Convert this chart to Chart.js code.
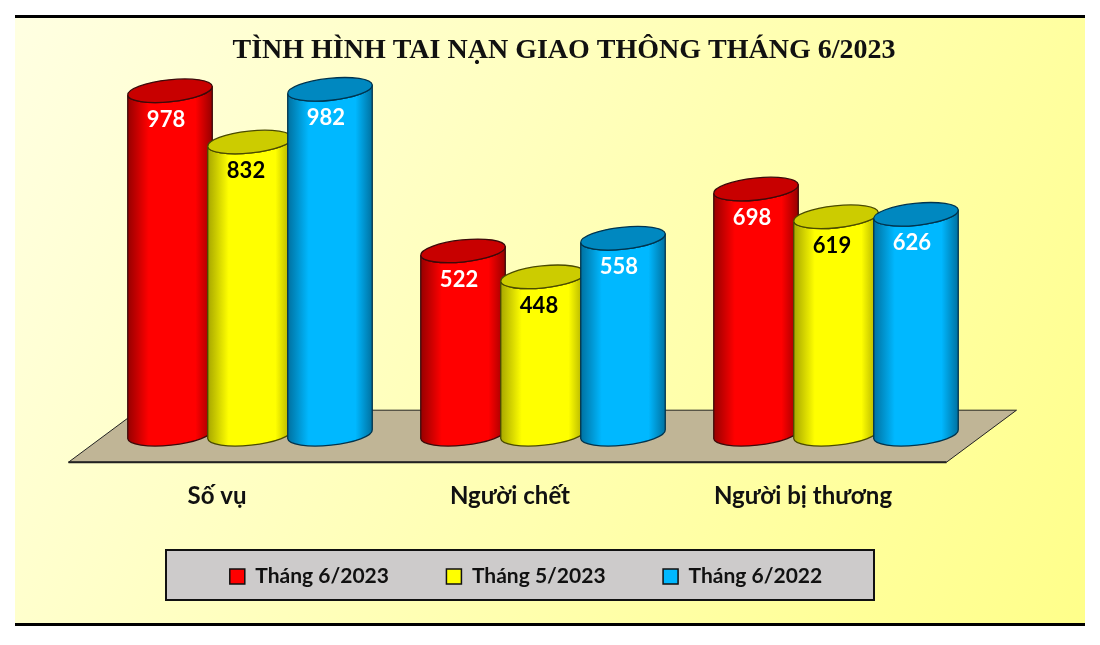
<!DOCTYPE html>
<html>
<head>
<meta charset="utf-8">
<style>
  html, body { margin: 0; padding: 0; background: #fff; }
  canvas { display: block; }
</style>
<script src="https://cdn.jsdelivr.net/npm/chart.js@4"></script>
</head>
<body>
<canvas id="chart" width="1100" height="645"></canvas>
<script>
const chartTitle = "TÌNH HÌNH TAI NẠN GIAO THÔNG THÁNG 6/2023";
const categories = ["Số vụ", "Người chết", "Người bị thương"];
const seriesNames = ["Tháng 6/2023", "Tháng 5/2023", "Tháng 6/2022"];
const thang62023 = [978, 522, 698];
const thang52023 = [832, 448, 619];
const thang62022 = [982, 558, 626];

const uiFont = "Lato, 'Open Sans', 'Noto Sans', sans-serif";
const palettes = [
    { main: "#ff0000", edge: "#960000", top: "#c80000", line: "#3c0a0a", text: "#ffffff" },
    { main: "#ffff00", edge: "#a6a600", top: "#cccc00", line: "#4a4a00", text: "#000000" },
    { main: "#00b8ff", edge: "#00709f", top: "#0088c0", line: "#00344e", text: "#ffffff" }
];

function drawCylinder(ctx, bar, colors) {
    const rx = bar.width / 2 + 2.5;
    const ry = 11;
    const tilt = -6 * Math.PI / 180;
    const grad = ctx.createLinearGradient(bar.x - rx, 0, bar.x + rx, 0);
    grad.addColorStop(0, colors.edge);
    grad.addColorStop(0.25, colors.main);
    grad.addColorStop(0.8, colors.main);
    grad.addColorStop(1, colors.edge);

    ctx.beginPath();
    ctx.ellipse(bar.x, bar.base, rx, ry, tilt, Math.PI, 0, true);
    ctx.ellipse(bar.x, bar.y, rx, ry, tilt, 0, Math.PI, false);
    ctx.closePath();
    ctx.fillStyle = grad;
    ctx.strokeStyle = colors.line;
    ctx.lineWidth = 1.3;
    ctx.fill();
    ctx.stroke();

    ctx.beginPath();
    ctx.ellipse(bar.x, bar.y, rx, ry, tilt, 0, Math.PI * 2);
    ctx.fillStyle = colors.top;
    ctx.fill();
    ctx.stroke();
}

const cylinderPlugin = {
    id: "cylinders",
    afterLayout(chart) {
        // title and legend are not centred on the plot in the picture
        chart.titleBlock.left += 21;
        chart.titleBlock.right += 21;
        const labels = chart.legend.options.labels;
        chart.legend.left -= 17;
        chart.legend.right -= 17;
        chart.legend.top = 575 - labels.padding - 9;
    },
    beforeDraw(chart) {
        const ctx = chart.ctx;
        const area = chart.chartArea;
        ctx.save();
        // yellow panel
        const bg = ctx.createLinearGradient(15, 15, 1085, 625);
        bg.addColorStop(0, "#ffffe2");
        bg.addColorStop(1, "#ffff8a");
        ctx.fillStyle = bg;
        ctx.fillRect(15, 15, 1070, 610);
        ctx.fillStyle = "#000";
        ctx.fillRect(15, 15, 1070, 3);
        ctx.fillRect(15, 623, 1070, 3);

        // floor under the cylinders
        ctx.beginPath();
        ctx.moveTo(area.left - 35, area.bottom + 28);
        ctx.lineTo(area.right - 36, area.bottom + 28);
        ctx.lineTo(area.right + 34, area.bottom - 24);
        ctx.lineTo(area.left + 35, area.bottom - 24);
        ctx.closePath();
        ctx.fillStyle = "#c0b596";
        ctx.strokeStyle = "#222";
        ctx.lineWidth = 1;
        ctx.fill();
        ctx.stroke();
        ctx.beginPath();
        ctx.moveTo(area.left - 35, area.bottom + 28);
        ctx.lineTo(area.right - 36, area.bottom + 28);
        ctx.lineWidth = 2;
        ctx.stroke();

        // grey box behind the legend
        ctx.fillStyle = "#cdcbcb";
        ctx.strokeStyle = "#111";
        ctx.lineWidth = 2;
        ctx.fillRect(166, 550, 708, 50);
        ctx.strokeRect(166, 550, 708, 50);
        ctx.restore();
    },
    // chart.js paints the last dataset first, here the last one has to end up in front
    beforeDatasetsDraw(chart) {
        const ctx = chart.ctx;
        ctx.save();
        chart.data.datasets.forEach((ds, i) => {
            chart.getDatasetMeta(i).data.forEach(bar => drawCylinder(ctx, bar, palettes[i]));
        });
        ctx.restore();
    },
    beforeDatasetDraw() {
        return false;
    },
    afterDatasetsDraw(chart) {
        const ctx = chart.ctx;
        ctx.save();
        ctx.font = "bold 22px " + uiFont;
        ctx.textAlign = "center";
        ctx.textBaseline = "middle";
        chart.data.datasets.forEach((ds, i) => {
            chart.getDatasetMeta(i).data.forEach((bar, j) => {
                ctx.fillStyle = palettes[i].text;
                ctx.fillText(ds.data[j], bar.x - 4, bar.y + 29);
            });
        });
        ctx.restore();
    }
};

const values = [thang62023, thang52023, thang62022];

new Chart(document.getElementById("chart"), {
    type: "bar",
    data: {
        labels: categories,
        datasets: seriesNames.map((name, i) => ({
            label: name,
            data: values[i],
            backgroundColor: palettes[i].main,
            borderColor: "#111",
            borderWidth: 1.5,
            categoryPercentage: 0.819,
            barPercentage: 1
        }))
    },
    plugins: [cylinderPlugin],
    options: {
        responsive: false,
        animation: false,
        devicePixelRatio: 1,
        layout: { padding: { top: 34, left: 103.5, right: 117.5, bottom: -1.5 } },
        plugins: {
            tooltip: { enabled: false },
            title: {
                display: true,
                text: chartTitle,
                color: "#111",
                font: { family: "'Liberation Serif', serif", size: 28, weight: "bold", lineHeight: 1.2 },
                padding: { top: 0, bottom: 15.4 }
            },
            legend: {
                position: "bottom",
                labels: {
                    color: "#111",
                    boxWidth: 15,
                    boxHeight: 15,
                    padding: 57.5,
                    font: { family: uiFont, size: 21, weight: "bold" }
                }
            }
        },
        scales: {
            x: {
                grid: { display: false, drawTicks: false },
                border: { display: false },
                ticks: {
                    color: "#111",
                    padding: 47.5,
                    labelOffset: -33,
                    maxRotation: 0,
                    font: { family: uiFont, size: 24, weight: "bold" }
                }
            },
            y: {
                display: false,
                min: 0,
                max: 1000
            }
        }
    }
});
</script>
</body>
</html>
